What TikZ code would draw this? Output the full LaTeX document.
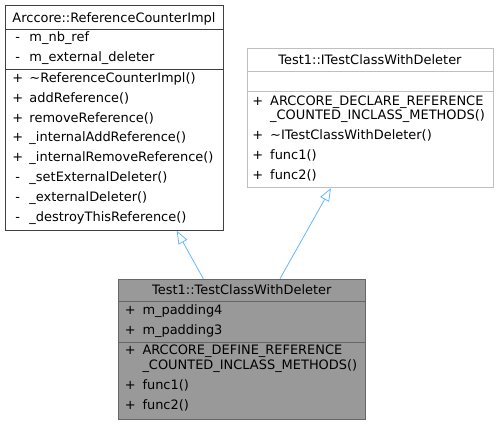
\documentclass[tikz,border=0pt]{standalone}
\usepackage{fontspec}
\setmainfont{DejaVu Sans}
\usetikzlibrary{arrows.meta}
\definecolor{edgegray}{HTML}{666666}
\definecolor{darkedge}{HTML}{404040}
\definecolor{extgray}{HTML}{BFBFBF}
\definecolor{fillgray}{HTML}{999999}
\definecolor{arrowblue}{HTML}{63B8FF}
\tikzset{
  classbox/.style={rectangle, draw=darkedge, line width=0.8pt, fill=white, inner sep=0pt, anchor=north west},
  extbox/.style={classbox, draw=extgray},
  curbox/.style={classbox, draw=edgegray, fill=fillgray},
  sepline/.style={draw=darkedge, line width=0.8pt},
  cursep/.style={draw=edgegray, line width=0.8pt},
  extsep/.style={draw=extgray, line width=0.8pt},
  txt/.style={inner sep=0pt, anchor=base west},
  mk/.style={inner sep=0pt, anchor=base},
  ttl/.style={inner sep=0pt, anchor=base},
  inherit/.style={draw=arrowblue, line width=0.8pt, -{Triangle[open, length=13pt, width=10pt]}}
}
\begin{document}
\begin{tikzpicture}[x=1pt, y=-1pt, font=\fontsize{12.95}{14}\selectfont]
\useasboundingbox (0,0) rectangle (499,424);

% ---- Box 1: Arccore::ReferenceCounterImpl
\node[classbox, minimum width=217.4pt, minimum height=225.3pt] (b1) at (5.3,4.7) {};
\draw[sepline] (5.3,29.3) -- (222.7,29.3);
\draw[sepline] (5.3,69) -- (222.7,69);
\node[ttl] (b1t) at (114,22) {Arccore::ReferenceCounterImpl};
\node[mk] (b1m1) at (17.7,41.7) {-};
\node[txt] (b1a1) at (29.3,41.7) {m\_nb\_ref};
\node[mk] (b1m2) at (17.7,61.5) {-};
\node[txt] (b1a2) at (29.3,61.5) {m\_external\_deleter};
\node[mk] (b1m3) at (17.7,82) {+};
\node[txt] (b1f1) at (29.3,82) {\textasciitilde ReferenceCounterImpl()};
\node[mk] (b1m4) at (17.7,102) {+};
\node[txt] (b1f2) at (29.3,102) {addReference()};
\node[mk] (b1m5) at (17.7,122) {+};
\node[txt] (b1f3) at (29.3,122) {removeReference()};
\node[mk] (b1m6) at (17.7,141.7) {+};
\node[txt] (b1f4) at (29.3,141.7) {\_internalAddReference()};
\node[mk] (b1m7) at (17.7,161.5) {+};
\node[txt] (b1f5) at (29.3,161.5) {\_internalRemoveReference()};
\node[mk] (b1m8) at (17.7,181.3) {-};
\node[txt] (b1f6) at (29.3,181.3) {\_setExternalDeleter()};
\node[mk] (b1m9) at (17.7,201) {-};
\node[txt] (b1f7) at (29.3,201) {\_externalDeleter()};
\node[mk] (b1m10) at (17.7,221) {-};
\node[txt] (b1f8) at (29.3,221) {\_destroyThisReference()};

% ---- Box 2: Test1::ITestClassWithDeleter
\node[extbox, minimum width=246.6pt, minimum height=139pt] (b2) at (246.7,48.3) {};
\draw[extsep] (246.7,71.7) -- (493.3,71.7);
\draw[extsep] (246.7,91.7) -- (493.3,91.7);
\node[ttl] (b2t) at (370,64.5) {Test1::ITestClassWithDeleter};
\node[mk] (b2m1) at (257.7,105.5) {+};
\node[txt] (b2f1) at (270,105.5) {ARCCORE\_DECLARE\_REFERENCE};
\node[txt] (b2f1b) at (270,119.5) {\_COUNTED\_INCLASS\_METHODS()};
\node[mk] (b2m2) at (257.7,139) {+};
\node[txt] (b2f2) at (270,139) {\textasciitilde ITestClassWithDeleter()};
\node[mk] (b2m3) at (257.7,159) {+};
\node[txt] (b2f3) at (270,159) {func1()};
\node[mk] (b2m4) at (257.7,179) {+};
\node[txt] (b2f4) at (270,179) {func2()};

% ---- Box 3: Test1::TestClassWithDeleter
\node[curbox, minimum width=247pt, minimum height=140pt] (b3) at (118.3,278.7) {};
\draw[cursep] (118.3,301.7) -- (365.3,301.7);
\draw[cursep] (118.3,342) -- (365.3,342);
\node[ttl] (b3t) at (241.8,294.7) {Test1::TestClassWithDeleter};
\node[mk] (b3m1) at (130.3,314.7) {+};
\node[txt] (b3a1) at (142.3,314.7) {m\_padding4};
\node[mk] (b3m2) at (130.3,334.5) {+};
\node[txt] (b3a2) at (142.3,334.5) {m\_padding3};
\node[mk] (b3m3) at (130.3,354.7) {+};
\node[txt] (b3f1) at (142.3,354.7) {ARCCORE\_DEFINE\_REFERENCE};
\node[txt] (b3f1b) at (142.3,369) {\_COUNTED\_INCLASS\_METHODS()};
\node[mk] (b3m4) at (130.3,389.5) {+};
\node[txt] (b3f2) at (142.3,389.5) {func1()};
\node[mk] (b3m5) at (130.3,409.5) {+};
\node[txt] (b3f3) at (142.3,409.5) {func2()};

% ---- Inheritance arrows
\draw[inherit] ([xshift=85pt]b3.north west) -- ([xshift=171.4pt]b1.south west);
\draw[inherit] ([xshift=161.7pt]b3.north west) -- ([xshift=84.3pt]b2.south west);
\end{tikzpicture}
\end{document}
